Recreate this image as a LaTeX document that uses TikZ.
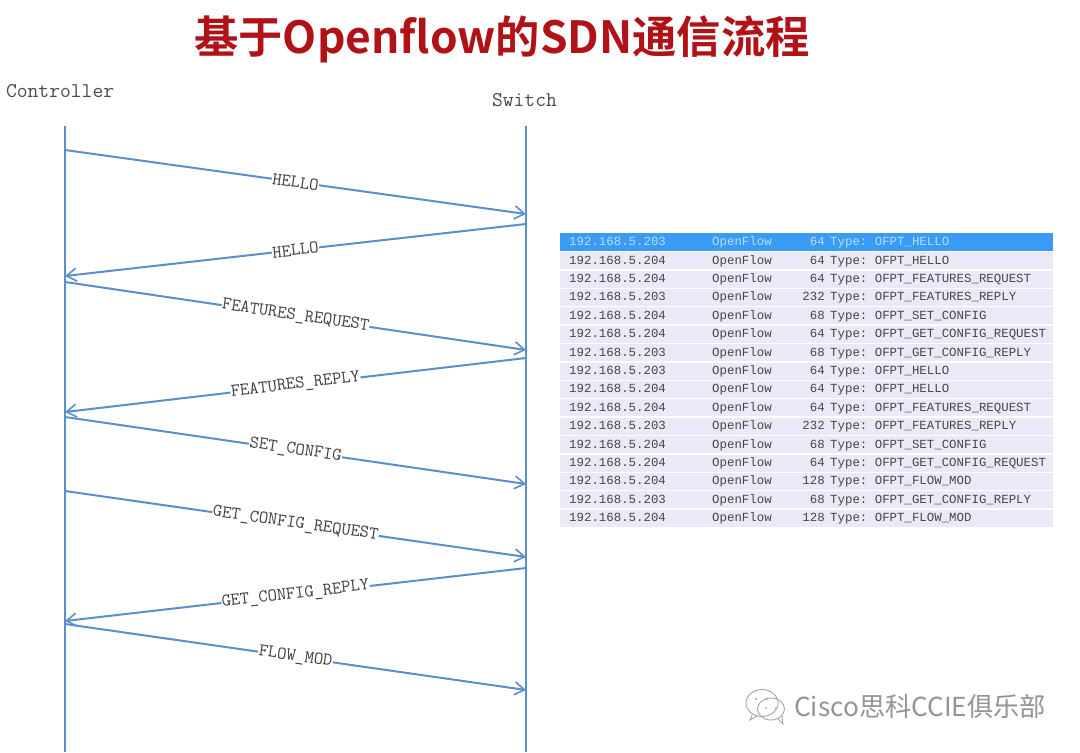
\documentclass[tikz,border=0pt]{standalone}
\usepackage{fontspec}
\newfontfamily\cjkb[BoldFont={Noto Sans CJK SC Bold}]{Noto Sans CJK SC}
\newfontfamily\tablefont{Liberation Mono}
\newfontfamily\wmfont{Noto Sans CJK SC}
\usetikzlibrary{arrows.meta}
\frenchspacing
\definecolor{linecol}{HTML}{5B8FCB}
\definecolor{rowcol}{HTML}{E9E9F8}
\definecolor{selcol}{HTML}{3A9BF5}
\definecolor{seltext}{HTML}{B9DCF8}
\definecolor{titlecol}{HTML}{B01218}
\tikzset{
  x=1pt,y=-1pt,
  lifeline/.style={draw=linecol,line width=2pt},
  msg/.style={draw=linecol,line width=2pt,-{Straight Barb[length=10pt,width=13pt,line width=1.6pt]}},
  msglabel/.style={fill=white,inner xsep=0.5pt,inner ysep=0.5pt,sloped,pos=.5,font=\fontsize{18}{18}\selectfont\ttfamily,text=black!75},
  actor/.style={font=\fontsize{21}{21}\selectfont\ttfamily,text=black!70,anchor=west},
  cell/.style={font=\fontsize{12.4}{12.4}\selectfont\tablefont,text=black!72,inner sep=0pt,text height=9pt,text depth=2pt},
  selcell/.style={cell,text=seltext},
}
\newcommand{\tablerow}[4]{%
  \fill[rowcol] (560,{233+(#1-1)*18.4+0.7}) rectangle (1053,{233+#1*18.4-0.7});
  \node[cell,anchor=west] (ip#1) at (569,{233+(#1-.5)*18.4}) {#2};
  \node[cell,anchor=west] (pr#1) at (712,{233+(#1-.5)*18.4}) {OpenFlow};
  \node[cell,anchor=east] (ln#1) at (825,{233+(#1-.5)*18.4}) {#3};
  \node[cell,anchor=west] (ty#1) at (830,{233+(#1-.5)*18.4}) {Type: #4};
}
\begin{document}
\begin{tikzpicture}
\useasboundingbox (0,0) rectangle (1080,753);
\fill[white] (0,0) rectangle (1080,753);
\node[text=titlecol,inner sep=0pt,font=\fontsize{44.3}{44.3}\selectfont\cjkb\bfseries] (title) at (502,39) {基于Openflow的SDN通信流程};
\node[actor] (ctrl) at (2.5,91) {Controller};
\node[actor] (sw) at (488.5,100) {Switch};
\coordinate (ctop) at (65,126);
\coordinate (cbot) at (65,752);
\coordinate (stop) at (526,126);
\coordinate (sbot) at (526,752);
\draw[lifeline] (ctop) -- (cbot);
\draw[lifeline] (stop) -- (sbot);
\coordinate (a1) at (65,150);  \coordinate (b1) at (526,214);
\coordinate (b2) at (526,224); \coordinate (a2) at (65,276);
\coordinate (a3) at (65,282);  \coordinate (b3) at (526,350);
\coordinate (b4) at (526,358); \coordinate (a4) at (65,412);
\coordinate (a5) at (65,417);  \coordinate (b5) at (526,484);
\coordinate (a6) at (65,491);  \coordinate (b6) at (526,557);
\coordinate (b7) at (526,568); \coordinate (a7) at (65,621);
\coordinate (a8) at (65,624);  \coordinate (b8) at (526,690);
\draw[msg] (a1) -- node[msglabel] (m1) {HELLO} (b1);
\draw[msg] (b2) -- node[msglabel] (m2) {HELLO} (a2);
\draw[msg] (a3) -- node[msglabel] (m3) {FEATURES\_REQUEST} (b3);
\draw[msg] (b4) -- node[msglabel] (m4) {FEATURES\_REPLY} (a4);
\draw[msg] (a5) -- node[msglabel] (m5) {SET\_CONFIG} (b5);
\draw[msg] (a6) -- node[msglabel] (m6) {GET\_CONFIG\_REQUEST} (b6);
\draw[msg] (b7) -- node[msglabel] (m7) {GET\_CONFIG\_REPLY} (a7);
\draw[msg] (a8) -- node[msglabel] (m8) {FLOW\_MOD} (b8);
\fill[selcol] (560,233) rectangle (1053,251.4);
\node[selcell,anchor=west] (ip1) at (569,242.2) {192.168.5.203};
\node[selcell,anchor=west] (pr1) at (712,242.2) {OpenFlow};
\node[selcell,anchor=east] (ln1) at (825,242.2) {64};
\node[selcell,anchor=west] (ty1) at (830,242.2) {Type: OFPT\_HELLO};
\tablerow{2}{192.168.5.204}{64}{OFPT\_HELLO}
\tablerow{3}{192.168.5.204}{64}{OFPT\_FEATURES\_REQUEST}
\tablerow{4}{192.168.5.203}{232}{OFPT\_FEATURES\_REPLY}
\tablerow{5}{192.168.5.204}{68}{OFPT\_SET\_CONFIG}
\tablerow{6}{192.168.5.204}{64}{OFPT\_GET\_CONFIG\_REQUEST}
\tablerow{7}{192.168.5.203}{68}{OFPT\_GET\_CONFIG\_REPLY}
\tablerow{8}{192.168.5.203}{64}{OFPT\_HELLO}
\tablerow{9}{192.168.5.204}{64}{OFPT\_HELLO}
\tablerow{10}{192.168.5.204}{64}{OFPT\_FEATURES\_REQUEST}
\tablerow{11}{192.168.5.203}{232}{OFPT\_FEATURES\_REPLY}
\tablerow{12}{192.168.5.204}{68}{OFPT\_SET\_CONFIG}
\tablerow{13}{192.168.5.204}{64}{OFPT\_GET\_CONFIG\_REQUEST}
\tablerow{14}{192.168.5.204}{128}{OFPT\_FLOW\_MOD}
\tablerow{15}{192.168.5.203}{68}{OFPT\_GET\_CONFIG\_REPLY}
\tablerow{16}{192.168.5.204}{128}{OFPT\_FLOW\_MOD}
% watermark
\begin{scope}[draw=black!35,line width=0.9pt,fill=white]
\draw (762,703) ellipse (16 and 13.5);
\draw (752,715) -- (750,720) -- (757,716);
\draw (771,709) ellipse (13.5 and 11);
\draw (778,719) -- (783,724) -- (782,716);
\fill[black!35] (756,699) circle (1.1) (767,699) circle (1.1) (766,708) circle (1) (776,708) circle (1);
\end{scope}
\node[font=\fontsize{26.2}{26.2}\selectfont\wmfont,text=black!42,anchor=west,inner sep=0pt] (wm) at (794,706) {Cisco思科CCIE俱乐部};
\end{tikzpicture}
\end{document}
